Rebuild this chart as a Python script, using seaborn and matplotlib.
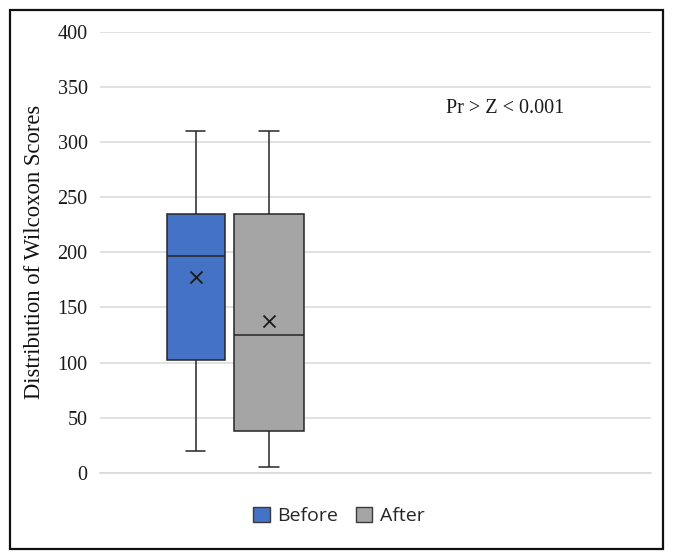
import matplotlib
matplotlib.use("Agg")
import matplotlib.pyplot as plt
import seaborn as sns
import pandas as pd
from matplotlib.patches import Rectangle, Patch

# five-number summaries (min, Q1, median, Q3, max)
groups = ["Before", "After"]
before_vals = [20, 102, 197, 235, 310]
after_vals = [5, 38, 125, 235, 310]
means = [178, 138]
note = "Pr > Z < 0.001"

colors = ["#4472C4", "#A5A5A5"]
positions = [1.0, 2.0]
widths = [0.79, 0.94]
cap_w = 0.26

sns.set_theme(style="white")
plt.rcParams["font.family"] = ["Liberation Serif", "DejaVu Serif"]

fig = plt.figure(figsize=(6.74, 5.6), dpi=100)
ax = fig.add_axes([0.1484, 0.1559, 0.966 - 0.1484, 0.9429 - 0.1559])

for vals, pos, w, c in zip([before_vals, after_vals], positions, widths, colors):
    df = pd.DataFrame({"x": [pos] * len(vals), "y": vals})
    n_before = len(ax.lines)
    sns.boxplot(data=df, x="x", y="y", native_scale=True, width=w, whis=(0, 100),
                color=c, saturation=1, linewidth=1.1, linecolor="#262626",
                showfliers=False, ax=ax)
    # narrower whisker caps, like Excel
    for ln in ax.lines[n_before:]:
        xd, yd = ln.get_xdata(), ln.get_ydata()
        if len(xd) == 2 and yd[0] == yd[1] and yd[0] in (min(vals), max(vals)):
            ln.set_xdata([pos - cap_w / 2, pos + cap_w / 2])

mdf = pd.DataFrame({"x": positions, "y": means})
sns.scatterplot(data=mdf, x="x", y="y", marker="x", s=75, color="#1a1a1a",
                linewidth=1.3, zorder=5, ax=ax, legend=False)

ax.set_xlim(-0.3, 7.2)
ax.set_ylim(0, 400)
ax.set_yticks(range(0, 401, 50))
ax.yaxis.grid(True, color="#D9D9D9", linewidth=1.1)
ax.set_axisbelow(True)
ax.set_xticks([])
ax.set_xlabel("")
for s in ["top", "right", "left"]:
    ax.spines[s].set_visible(False)
ax.spines["bottom"].set_color("#D9D9D9")
ax.spines["bottom"].set_linewidth(1.1)
ax.tick_params(axis="y", length=0, pad=9, labelsize=14.5, labelcolor="#1a1a1a")
ax.set_ylabel("Distribution of Wilcoxon Scores", fontsize=16.3, color="#111111", labelpad=9)

ax.text(5.21, 331, note, ha="center", va="center", fontsize=14.5, color="#1a1a1a")

handles = [Patch(facecolor=c, edgecolor="#3a3a3a", label=g) for g, c in zip(groups, colors)]
fig.legend(handles=handles, loc="center", bbox_to_anchor=(339 / 674, 1 - 516 / 560),
           ncol=2, frameon=False, handlelength=0.85, handleheight=0.85,
           handletextpad=0.4, columnspacing=0.9,
           prop={"family": "Open Sans", "size": 14})

fig.patches.append(Rectangle((10 / 674, 1 - 549 / 560), 653 / 674, 539 / 560,
                             transform=fig.transFigure, fill=False,
                             edgecolor="#111111", linewidth=1.6))

fig.savefig("out.png", dpi=100)
